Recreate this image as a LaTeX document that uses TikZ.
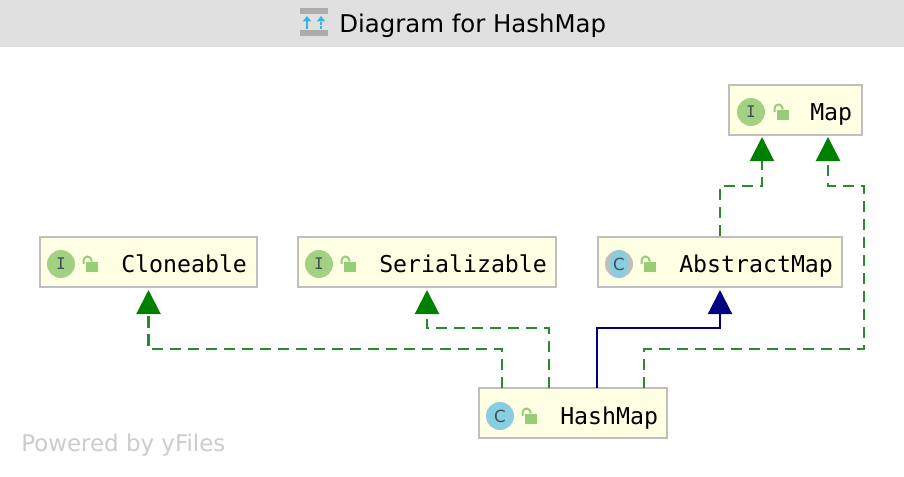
\documentclass[tikz,border=0pt]{standalone}
\usepackage{xcolor}
\usepackage{fontspec}
\setmainfont{DejaVu Sans}
\newfontfamily\labelfont{DejaVu Sans Mono}
\usepackage{tikz}
\usetikzlibrary{arrows.meta}

\definecolor{barGray}{HTML}{E0E0E0}
\definecolor{boxFill}{HTML}{FFFFE4}
\definecolor{boxEdge}{HTML}{BFBFBF}
\definecolor{implGreen}{HTML}{2B8A2B}
\definecolor{tipGreen}{HTML}{008000}
\definecolor{extendBlue}{HTML}{000080}
\definecolor{ifaceGreen}{HTML}{A3D184}
\definecolor{classBlue}{HTML}{87CFE0}
\definecolor{lockGreen}{HTML}{96CE78}
\definecolor{letterGray}{HTML}{3F4F4F}
\definecolor{iconBlue}{HTML}{3CB0E0}

\begin{document}
\begin{tikzpicture}[
  x=0.75pt, y=-0.75pt,
  classbox/.style={rectangle, draw=boxEdge, fill=boxFill, line width=1.5pt, minimum height=37.5pt, inner sep=0pt},
  classname/.style={anchor=base west, inner sep=0pt, font=\labelfont\fontsize{17.4}{20}\selectfont},
  iface/.style={circle, fill=ifaceGreen, minimum size=21pt, inner sep=0pt, text=letterGray, font=\labelfont\fontsize{12}{12}\selectfont},
  cls/.style={circle, fill=classBlue, minimum size=21pt, inner sep=0pt, text=letterGray, font=\fontsize{12.5}{12}\selectfont},
  lockbody/.style={fill=lockGreen, minimum width=9.5pt, minimum height=8pt, inner sep=0pt},
  lockring/.style={draw=lockGreen, line width=1.5pt},
  impl/.style={draw=implGreen, line width=1.6pt, dash pattern=on 8.5pt off 5pt, -{Triangle[length=18pt,width=18pt,color=tipGreen]}, shorten >=1.5pt},
  extend/.style={draw=extendBlue, line width=1.6pt, -{Triangle[length=18pt,width=18pt,color=extendBlue]}, shorten >=1.5pt}
]

% Page and title bar
\path[use as bounding box, fill=white] (0,0) rectangle (904,476);
\fill[barGray] (0,0) rectangle (904,47);
\fill[boxEdge!90!black] (300,8) rectangle (328,14);
\fill[boxEdge!90!black] (300,30) rectangle (328,36);
\draw[iconBlue, line width=1.1pt, -{Triangle[length=4pt,width=6pt]}] (307,29) -- (307,16);
\draw[iconBlue, line width=1.1pt, dash pattern=on 2pt off 1pt, -{Triangle[length=4pt,width=6pt]}] (321,29) -- (321,16);
\node[anchor=base west, inner sep=0pt, font=\fontsize{18.3}{22}\selectfont] (title) at (339,32) {Diagram for HashMap};

% Class boxes
\node[classbox, minimum width=99.75pt] (map) at (795.5,110) {};
\node[classbox, minimum width=162.75pt] (cloneable) at (148.5,262) {};
\node[classbox, minimum width=193.5pt] (serializable) at (427,262) {};
\node[classbox, minimum width=183pt] (abstractmap) at (720,262) {};
\node[classbox, minimum width=141pt] (hashmap) at (573,413) {};

% Kind icons
\node[iface] (mapicon) at (751,112) {I};
\node[iface] (cloneableicon) at (61,264) {I};
\node[iface] (serializableicon) at (319,264) {I};
\node[cls] (hashmapicon) at (500,416) {C};
\begin{scope}
  \fill[boxEdge] (619,264) circle (10.5pt);
  \clip (619,264) ellipse (6.8pt and 10.5pt);
  \fill[classBlue] (605,250) rectangle (633,278);
\end{scope}
\node[inner sep=0pt, text=letterGray, font=\fontsize{12.5}{12}\selectfont] (abstractmapicon) at (619,264) {C};

% Locks
\foreach \lockx/\locky in {782/113, 91/265, 349/265, 649/265, 530/417} {
  \node[lockbody] at (\lockx+1,\locky+2) {};
  \draw[lockring] (\lockx-7.5,\locky-1) -- (\lockx-7.5,\locky-4.5) arc (180:360:4) -- ++(0,1);
}

% Class names
\node[classname] (mapname) at (810,120) {Map};
\node[classname] (cloneablename) at (121,272) {Cloneable};
\node[classname] (serializablename) at (379,272) {Serializable};
\node[classname] (abstractmapname) at (679,272) {AbstractMap};
\node[classname] (hashmapname) at (560,424) {HashMap};

% Connector ends on the boxes
\coordinate (hashA) at (502,388);
\coordinate (hashB) at (549,388);
\coordinate (hashC) at (597,388);
\coordinate (hashD) at (644,388);
\coordinate (mapA) at (762,135);
\coordinate (mapB) at (828,135);
\coordinate (turnA) at (864,349);
\coordinate (turnB) at (864,186);

% Connect classes
\draw[impl] (hashA) |- (148.5,349) -- (cloneable.south);
\draw[impl] (hashB) |- (427,328) -- (serializable.south);
\draw[extend] (hashC) |- (720,328) -- (abstractmap.south);
\draw[impl] (abstractmap.north) |- (762,186) -- (mapA);
\draw[impl] (hashD) |- (turnA) -- (turnB) -| (mapB);

% Footer
\node[anchor=base west, inner sep=0pt, text=black!20, font=\fontsize{17.2}{18}\selectfont] (powered) at (21,451) {Powered by yFiles};

\end{tikzpicture}
\end{document}
